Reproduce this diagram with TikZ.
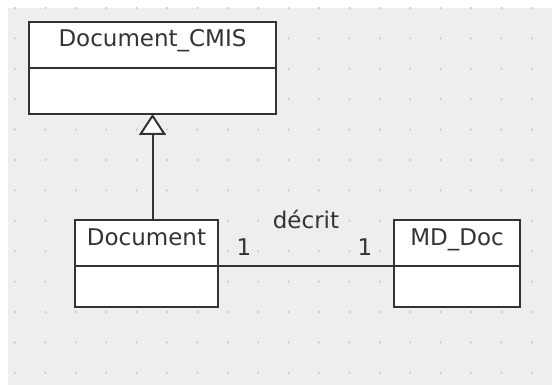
\documentclass[tikz,border=0pt]{standalone}
\usepackage{fontspec}
\setmainfont{DejaVu Sans}
\usetikzlibrary{positioning,arrows.meta}
\definecolor{fondo}{HTML}{EEEEEE}
\definecolor{punto}{HTML}{C4C4C4}
\definecolor{tratto}{HTML}{333333}
\begin{document}
\begin{tikzpicture}[x=1pt,y=-1pt,
  classhead/.style={draw=tratto, line width=2pt, fill=white, outer sep=0pt,
    inner xsep=0pt, inner ysep=0pt, text height=25pt, text depth=21pt,
    minimum height=46pt, text=tratto, font=\fontsize{23}{27}\selectfont},
  classbody/.style={draw=tratto, line width=2pt, fill=white, outer sep=0pt,
    inner sep=0pt},
  assoc/.style={draw=tratto, line width=2pt},
  molt/.style={anchor=base, text=tratto, inner sep=0pt, font=\fontsize{23}{27}\selectfont},
  inherit/.style={draw=tratto, line width=2pt,
    -{Triangle[open, width=27pt, length=21pt, line width=2pt, fill=white]}}]

% --- Sfondo e griglia ---
\useasboundingbox (0,0) rectangle (552,385);
\fill[fondo] (8,8) rectangle (552,385);
\foreach \x in {15,45.4,...,552}
  \foreach \y in {8,38.4,...,385}
    \fill[punto] (\x,\y) circle (1.1pt);

% --- Classi ---
\node[classhead, minimum width=247pt] (cmis) at (152.5,45) {Document\_CMIS};
\node[classbody, minimum width=247pt, minimum height=46pt, below=0pt of cmis] (cmisb) {};

\node[classhead, minimum width=143pt] (doc) at (146.5,243) {Document};
\node[classbody, minimum width=143pt, minimum height=41pt, below=0pt of doc] (docb) {};

\node[classhead, minimum width=126pt] (mddoc) at (457,243) {MD\_Doc};
\node[classbody, minimum width=126pt, minimum height=41pt, below=0pt of mddoc] (mddocb) {};

% --- Generalizzazione ---
\draw[inherit] (doc.north -| cmisb.south) -- (cmisb.south);

% --- Associazione ---
\draw[assoc] (doc.south east) -- (mddoc.south west)
  node[molt, pos=0.5, yshift=37pt] {décrit}
  node[molt, pos=0.148, yshift=11pt] {1}
  node[molt, pos=0.835, yshift=11pt] {1};

\end{tikzpicture}
\end{document}
